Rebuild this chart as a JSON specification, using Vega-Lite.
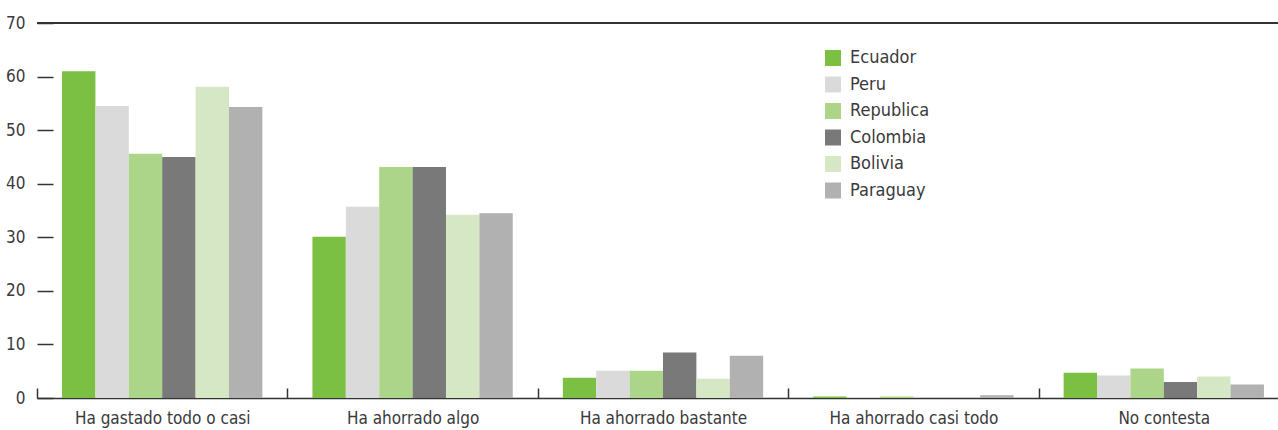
{
  "$schema": "https://vega.github.io/schema/vega-lite/v6.json",
  "width": 1241,
  "height": 375,
  "autosize": {"type": "none"},
  "padding": {"left": 37, "top": 23, "right": 0, "bottom": 32},
  "background": "white",
  "config": {
    "view": {"stroke": null},
    "font": "'DejaVu Sans Condensed', 'Liberation Sans Narrow', Roboto, sans-serif",
    "axis": {"labelFont": "'DejaVu Sans Condensed', 'Liberation Sans Narrow', Roboto, sans-serif", "labelColor": "#3a3a3a"},
    "legend": {"labelFont": "'DejaVu Sans Condensed', 'Liberation Sans Narrow', Roboto, sans-serif"}
  },
  "data": {
    "values": [
      {"cat": "Ha gastado todo o casi", "country": "Ecuador", "value": 61.0},
      {"cat": "Ha gastado todo o casi", "country": "Peru", "value": 54.5},
      {"cat": "Ha gastado todo o casi", "country": "Republica", "value": 45.6},
      {"cat": "Ha gastado todo o casi", "country": "Colombia", "value": 45.0},
      {"cat": "Ha gastado todo o casi", "country": "Bolivia", "value": 58.1},
      {"cat": "Ha gastado todo o casi", "country": "Paraguay", "value": 54.3},
      {"cat": "Ha ahorrado algo", "country": "Ecuador", "value": 30.1},
      {"cat": "Ha ahorrado algo", "country": "Peru", "value": 35.7},
      {"cat": "Ha ahorrado algo", "country": "Republica", "value": 43.1},
      {"cat": "Ha ahorrado algo", "country": "Colombia", "value": 43.1},
      {"cat": "Ha ahorrado algo", "country": "Bolivia", "value": 34.2},
      {"cat": "Ha ahorrado algo", "country": "Paraguay", "value": 34.5},
      {"cat": "Ha ahorrado bastante", "country": "Ecuador", "value": 3.8},
      {"cat": "Ha ahorrado bastante", "country": "Peru", "value": 5.1},
      {"cat": "Ha ahorrado bastante", "country": "Republica", "value": 5.1},
      {"cat": "Ha ahorrado bastante", "country": "Colombia", "value": 8.5},
      {"cat": "Ha ahorrado bastante", "country": "Bolivia", "value": 3.6},
      {"cat": "Ha ahorrado bastante", "country": "Paraguay", "value": 7.9},
      {"cat": "Ha ahorrado casi todo", "country": "Ecuador", "value": 0.3},
      {"cat": "Ha ahorrado casi todo", "country": "Peru", "value": 0.2},
      {"cat": "Ha ahorrado casi todo", "country": "Republica", "value": 0.3},
      {"cat": "Ha ahorrado casi todo", "country": "Colombia", "value": 0},
      {"cat": "Ha ahorrado casi todo", "country": "Bolivia", "value": 0},
      {"cat": "Ha ahorrado casi todo", "country": "Paraguay", "value": 0.5},
      {"cat": "No contesta", "country": "Ecuador", "value": 4.7},
      {"cat": "No contesta", "country": "Peru", "value": 4.2},
      {"cat": "No contesta", "country": "Republica", "value": 5.5},
      {"cat": "No contesta", "country": "Colombia", "value": 3.0},
      {"cat": "No contesta", "country": "Bolivia", "value": 4.0},
      {"cat": "No contesta", "country": "Paraguay", "value": 2.5}
    ]
  },
  "layer": [
    {
      "mark": {"type": "bar"},
      "encoding": {
        "x": {
          "field": "cat", "type": "nominal", "sort": null,
          "scale": {"paddingInner": 0.2, "paddingOuter": 0.1, "range": [0, 1252]},
          "axis": {
            "title": null, "labelAngle": 0, "labelFontSize": 17,
            "labelPadding": 22, "bandPosition": 0, "tickOffset": -25,
            "labelOffset": 25, "tickSize": -10,
            "tickColor": "#333333", "tickWidth": 1.5,
            "domainColor": "#333333", "domainWidth": 1.5, "grid": false
          }
        },
        "xOffset": {
          "field": "country", "type": "nominal", "sort": null,
          "scale": {"paddingInner": 0, "paddingOuter": 0}
        },
        "y": {
          "field": "value", "type": "quantitative",
          "scale": {"domain": [0, 70], "nice": false},
          "axis": {
            "title": null, "values": [0, 10, 20, 30, 40, 50, 60, 70],
            "labelFontSize": 17, "labelPadding": 28, "tickSize": -16,
            "tickColor": "#333333", "tickWidth": 1.5, "domain": false,
            "grid": false
          }
        },
        "color": {
          "field": "country", "type": "nominal", "sort": null,
          "scale": {
            "domain": ["Ecuador", "Peru", "Republica", "Colombia", "Bolivia", "Paraguay"],
            "range": ["#7bbf43", "#dadada", "#add58a", "#797979", "#d5e7c4", "#b2b1b2"]
          },
          "legend": {
            "title": null, "orient": "none", "legendX": 787, "legendY": 26,
            "symbolType": "square", "symbolSize": 256, "symbolStrokeWidth": 0,
            "labelFontSize": 18, "labelColor": "#3a3a3a", "rowPadding": 8.5,
            "labelOffset": 8
          }
        }
      }
    },
    {
      "mark": {"type": "rule", "color": "#333333", "strokeWidth": 1.5},
      "encoding": {"y": {"datum": 70}}
    }
  ]
}
